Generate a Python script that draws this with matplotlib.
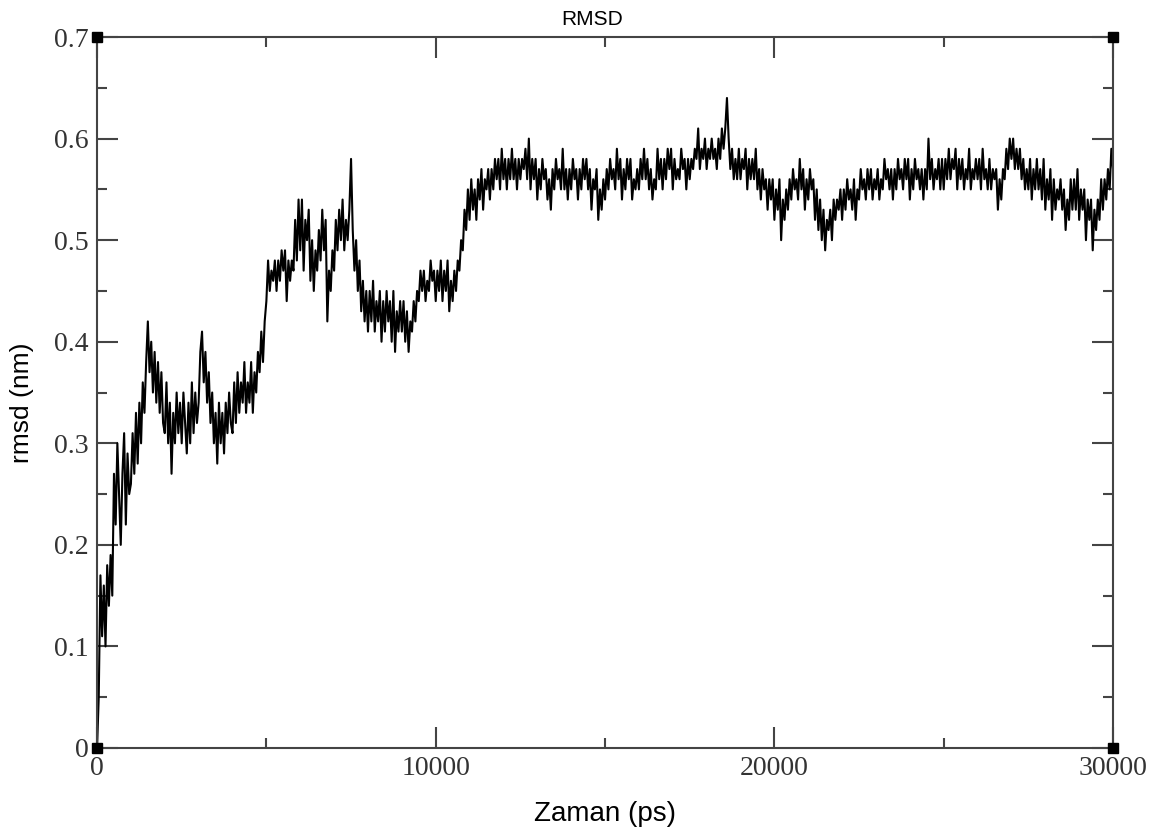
import numpy as np
import matplotlib
matplotlib.use("Agg")
import matplotlib.pyplot as plt
from matplotlib.ticker import MultipleLocator, FuncFormatter


# =========================
# DATA (one value every 50 ps)
# =========================

step_ps = 50

rmsd = [
    # 0 - 950
    0.00, 0.05, 0.17, 0.11, 0.16, 0.10, 0.18, 0.14, 0.19, 0.15,
    0.27, 0.22, 0.30, 0.25, 0.20, 0.27, 0.31, 0.22, 0.29, 0.25,
    # 1000 - 1950
    0.26, 0.31, 0.27, 0.33, 0.28, 0.34, 0.30, 0.36, 0.33, 0.38,
    0.42, 0.37, 0.40, 0.35, 0.39, 0.34, 0.38, 0.33, 0.37, 0.32,
    # 2000 - 2950
    0.31, 0.36, 0.30, 0.34, 0.27, 0.33, 0.30, 0.35, 0.31, 0.34,
    0.30, 0.35, 0.32, 0.29, 0.34, 0.30, 0.36, 0.31, 0.35, 0.32,
    # 3000 - 3950
    0.34, 0.39, 0.41, 0.36, 0.39, 0.34, 0.37, 0.32, 0.35, 0.30,
    0.33, 0.28, 0.34, 0.30, 0.33, 0.29, 0.34, 0.31, 0.35, 0.32,
    # 4000 - 4950
    0.31, 0.36, 0.32, 0.37, 0.33, 0.36, 0.34, 0.38, 0.33, 0.36,
    0.34, 0.38, 0.33, 0.37, 0.35, 0.39, 0.37, 0.41, 0.38, 0.42,
    # 5000 - 5950
    0.44, 0.48, 0.45, 0.47, 0.46, 0.48, 0.45, 0.48, 0.46, 0.49,
    0.47, 0.49, 0.44, 0.48, 0.46, 0.48, 0.47, 0.52, 0.48, 0.54,
    # 6000 - 6950
    0.49, 0.54, 0.47, 0.52, 0.50, 0.53, 0.46, 0.50, 0.45, 0.49,
    0.47, 0.51, 0.48, 0.53, 0.49, 0.52, 0.42, 0.47, 0.45, 0.49,
    # 7000 - 7950
    0.47, 0.52, 0.49, 0.53, 0.50, 0.54, 0.49, 0.52, 0.50, 0.53,
    0.58, 0.51, 0.47, 0.50, 0.45, 0.48, 0.43, 0.46, 0.42, 0.45,
    # 8000 - 8950
    0.41, 0.45, 0.42, 0.46, 0.41, 0.44, 0.42, 0.45, 0.40, 0.44,
    0.41, 0.45, 0.42, 0.44, 0.40, 0.45, 0.39, 0.43, 0.41, 0.44,
    # 9000 - 9950
    0.41, 0.44, 0.40, 0.43, 0.39, 0.42, 0.41, 0.44, 0.42, 0.45,
    0.44, 0.47, 0.45, 0.47, 0.44, 0.46, 0.45, 0.48, 0.46, 0.47,
    # 10000 - 10950
    0.44, 0.47, 0.45, 0.48, 0.44, 0.47, 0.45, 0.48, 0.43, 0.46,
    0.44, 0.47, 0.45, 0.48, 0.47, 0.50, 0.49, 0.53, 0.51, 0.55,
    # 11000 - 11950
    0.52, 0.56, 0.53, 0.55, 0.52, 0.56, 0.54, 0.57, 0.53, 0.56,
    0.55, 0.57, 0.54, 0.57, 0.55, 0.58, 0.56, 0.58, 0.55, 0.59,
    # 12000 - 12950
    0.56, 0.58, 0.55, 0.58, 0.56, 0.59, 0.56, 0.58, 0.55, 0.58,
    0.56, 0.58, 0.57, 0.59, 0.56, 0.60, 0.55, 0.58, 0.56, 0.58,
    # 13000 - 13950
    0.54, 0.57, 0.55, 0.58, 0.56, 0.57, 0.54, 0.56, 0.53, 0.57,
    0.55, 0.58, 0.56, 0.57, 0.55, 0.59, 0.55, 0.57, 0.54, 0.57,
    # 14000 - 14950
    0.55, 0.58, 0.56, 0.57, 0.54, 0.57, 0.55, 0.58, 0.56, 0.58,
    0.55, 0.57, 0.53, 0.56, 0.55, 0.57, 0.52, 0.55, 0.53, 0.56,
    # 15000 - 15950
    0.54, 0.57, 0.55, 0.58, 0.56, 0.57, 0.55, 0.59, 0.56, 0.58,
    0.54, 0.57, 0.55, 0.58, 0.56, 0.58, 0.54, 0.56, 0.55, 0.57,
    # 16000 - 16950
    0.55, 0.58, 0.56, 0.59, 0.56, 0.58, 0.55, 0.57, 0.54, 0.56,
    0.55, 0.59, 0.56, 0.58, 0.55, 0.58, 0.56, 0.59, 0.57, 0.59,
    # 17000 - 17950
    0.55, 0.58, 0.56, 0.57, 0.56, 0.59, 0.57, 0.58, 0.55, 0.58,
    0.56, 0.58, 0.57, 0.59, 0.58, 0.61, 0.57, 0.59, 0.58, 0.60,
    # 18000 - 18950
    0.57, 0.59, 0.58, 0.60, 0.58, 0.59, 0.57, 0.60, 0.58, 0.61,
    0.59, 0.61, 0.64, 0.60, 0.57, 0.59, 0.56, 0.58, 0.56, 0.59,
    # 19000 - 19950
    0.56, 0.58, 0.57, 0.59, 0.55, 0.58, 0.56, 0.58, 0.56, 0.59,
    0.55, 0.57, 0.54, 0.57, 0.55, 0.56, 0.53, 0.56, 0.54, 0.56,
    # 20000 - 20950
    0.52, 0.55, 0.53, 0.56, 0.50, 0.54, 0.52, 0.55, 0.53, 0.56,
    0.54, 0.57, 0.55, 0.56, 0.54, 0.58, 0.55, 0.57, 0.53, 0.56,
    # 21000 - 21950
    0.54, 0.57, 0.55, 0.56, 0.52, 0.55, 0.51, 0.54, 0.50, 0.53,
    0.49, 0.52, 0.51, 0.53, 0.50, 0.54, 0.52, 0.54, 0.53, 0.55,
    # 22000 - 22950
    0.52, 0.55, 0.53, 0.56, 0.54, 0.55, 0.53, 0.56, 0.52, 0.55,
    0.54, 0.57, 0.55, 0.56, 0.54, 0.57, 0.55, 0.57, 0.54, 0.56,
    # 23000 - 23950
    0.55, 0.57, 0.54, 0.56, 0.55, 0.58, 0.56, 0.57, 0.55, 0.57,
    0.54, 0.57, 0.55, 0.58, 0.56, 0.57, 0.55, 0.58, 0.56, 0.58,
    # 24000 - 24950
    0.54, 0.57, 0.55, 0.58, 0.56, 0.57, 0.55, 0.57, 0.54, 0.57,
    0.55, 0.60, 0.56, 0.58, 0.55, 0.57, 0.56, 0.58, 0.55, 0.58,
    # 25000 - 25950
    0.55, 0.58, 0.56, 0.59, 0.56, 0.58, 0.57, 0.59, 0.55, 0.58,
    0.56, 0.58, 0.55, 0.57, 0.56, 0.59, 0.55, 0.57, 0.56, 0.58,
    # 26000 - 26950
    0.56, 0.58, 0.55, 0.59, 0.56, 0.57, 0.55, 0.58, 0.55, 0.57,
    0.56, 0.57, 0.53, 0.56, 0.54, 0.57, 0.56, 0.59, 0.57, 0.60,
    # 27000 - 27950
    0.58, 0.60, 0.57, 0.59, 0.57, 0.59, 0.56, 0.58, 0.55, 0.57,
    0.55, 0.58, 0.54, 0.57, 0.55, 0.58, 0.55, 0.57, 0.54, 0.58,
    # 28000 - 28950
    0.53, 0.56, 0.54, 0.57, 0.52, 0.56, 0.53, 0.55, 0.54, 0.56,
    0.53, 0.55, 0.51, 0.54, 0.52, 0.56, 0.53, 0.56, 0.53, 0.57,
    # 29000 - 29950
    0.52, 0.55, 0.53, 0.55, 0.50, 0.54, 0.52, 0.54, 0.49, 0.53,
    0.51, 0.54, 0.52, 0.56, 0.53, 0.56, 0.54, 0.57, 0.55, 0.59,
    # 30000
    0.57,
]

time_ps = np.arange(len(rmsd)) * step_ps

x_ticks = [0, 10000, 20000, 30000]
y_ticks = [0, 0.1, 0.2, 0.3, 0.4, 0.5, 0.6, 0.7]


# =========================
# PLOT
# =========================

fig = plt.figure(figsize=(11.65, 8.38), dpi=100)
ax = fig.add_axes([0.0833, 0.1074, 0.8721, 0.8484])

ax.plot(time_ps, rmsd, color="black", linewidth=1.5)

ax.set_xlim(0, 30000)
ax.set_ylim(0, 0.7)

ax.set_xticks(x_ticks)
ax.set_yticks(y_ticks)
ax.xaxis.set_minor_locator(MultipleLocator(5000))
ax.yaxis.set_minor_locator(MultipleLocator(0.05))
ax.yaxis.set_major_formatter(FuncFormatter(lambda v, p: "0" if v == 0 else f"{v:.1f}"))

ax.tick_params(which="both", direction="in", top=True, right=True,
               color="#444444", width=1.5)
ax.tick_params(which="major", length=15, pad=6)
ax.tick_params(which="minor", length=7)

for label in ax.get_xticklabels() + ax.get_yticklabels():
    label.set_fontfamily("Liberation Serif")
    label.set_fontsize(20)
    label.set_color("#333333")

for spine in ax.spines.values():
    spine.set_color("#444444")
    spine.set_linewidth(1.5)

# corner squares (grace style)
ax.plot([0, 0, 30000, 30000], [0, 0.7, 0, 0.7], linestyle="none",
        marker="s", markersize=7, color="black", clip_on=False, zorder=5)

ax.set_title("RMSD", fontfamily="Liberation Sans", fontsize=15, pad=9, x=0.487)
ax.set_xlabel("Zaman (ps)", fontfamily="Liberation Sans", fontsize=20, labelpad=14)
ax.set_ylabel("rmsd (nm)", fontfamily="Liberation Sans", fontsize=19)
ax.yaxis.set_label_coords(-0.062, 0.485)

fig.savefig("out.png", dpi=100)
